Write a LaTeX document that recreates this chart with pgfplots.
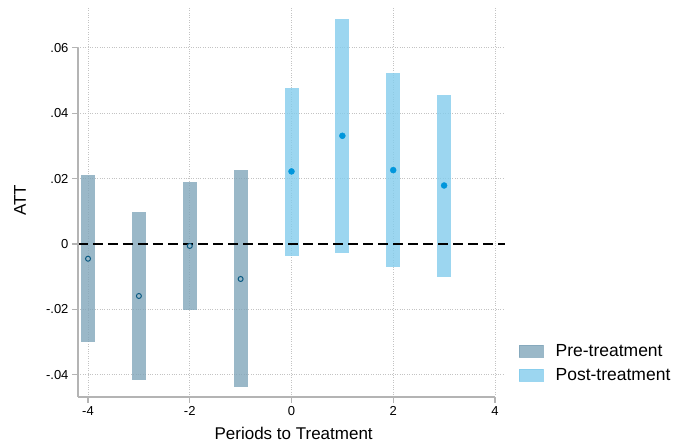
\documentclass[border=0pt]{standalone}
\usepackage{pgfplots}
\pgfplotsset{compat=1.18}
\usepackage{pgfplotstable}
\usepackage{fontspec}
\setmainfont{Liberation Sans}
\definecolor{precol}{RGB}{129,166,186}
\definecolor{postcol}{RGB}{131,204,236}
\definecolor{prebar}{RGB}{154,184,200}
\definecolor{premark}{RGB}{10,90,130}
\definecolor{postmark}{RGB}{0,150,220}
\definecolor{axgray}{RGB}{180,180,180}
\definecolor{gridgray}{RGB}{195,195,195}

\pgfplotstableread{
x y lo hi
-4 -0.0045 -0.0299 0.0211
-3 -0.0159 -0.0415 0.0099
-2 -0.0006 -0.0201 0.0189
-1 -0.0107 -0.0437 0.0225
}\pre
\pgfplotstableread{
x y lo hi
0 0.0222 -0.0036 0.0478
1 0.0331 -0.0027 0.0689
2 0.0226 -0.0071 0.0523
3 0.0179 -0.0100 0.0456
}\post

\begin{document}
\begin{tikzpicture}
\begin{axis}[
  name=ax,
  at={(0,0)}, anchor=south west,
  scale only axis,
  width=427pt, height=389pt,
  xmin=-4.197, xmax=4.197,
  ymin=-0.0468, ymax=0.0722,
  scaled y ticks=false, scaled x ticks=false,
  axis x line*=bottom, axis y line*=left,
  axis line style={draw=none},
  xtick={-4,-2,0,2,4},
  xticklabels={-4,-2,0,2,4},
  ytick={-0.04,-0.02,0,0.02,0.04,0.06},
  yticklabels={-.04,-.02,0,.02,.04,.06},
  extra y ticks={-0.04,-0.02,0.02,0.04,0.06},
  extra y tick labels={},
  extra y tick style={ymajorgrids=true, major tick length=0pt, tick style={draw=none}},
  tick align=outside,
  major tick length=6pt,
  tick style={axgray, line width=1.2pt},
  xmajorgrids=true,
  grid style={gridgray, dotted, line width=0.8pt},
  ticklabel style={font=\fontsize{13}{15}\selectfont},
  /pgf/number format/assume math mode=true,
  xlabel={Periods to Treatment},
  ylabel={ATT},
  label style={font=\fontsize{17}{20}\selectfont},
  xlabel style={at={(axis description cs:0.505,-0.108)}, anchor=base},
  ylabel style={at={(axis description cs:-0.1218,0.5057)}, anchor=base},
  clip=false,
  legend style={at={(axis description cs:1.0328,0.1414)}, anchor=north west,
    draw=none, fill=none, inner sep=0pt, row sep=6.5pt,
    font=\fontsize{17.5}{20}\selectfont},
  legend cell align=left,
]
\addplot[only marks, mark=none, forget plot,
  error bars/.cd, y dir=both, y explicit, error mark=none,
  error bar style={line width=14pt, color=precol, opacity=0.8}]
  table[x=x, y=y, y error plus expr=\thisrow{hi}-\thisrow{y}, y error minus expr=\thisrow{y}-\thisrow{lo}] {\pre};
\addplot[only marks, mark=none, forget plot,
  error bars/.cd, y dir=both, y explicit, error mark=none,
  error bar style={line width=14pt, color=postcol, opacity=0.8}]
  table[x=x, y=y, y error plus expr=\thisrow{hi}-\thisrow{y}, y error minus expr=\thisrow{y}-\thisrow{lo}] {\post};
\draw[black, dash pattern=on 10pt off 5pt, line width=1.2pt]
  (axis cs:-4.197,0) -- (axis cs:4.197,0);
\addplot[only marks, mark=*, mark size=2.5pt, forget plot,
  mark options={draw=premark, fill=prebar, line width=1pt}]
  table[x=x, y=y] {\pre};
\addplot[only marks, mark=*, mark size=3pt, forget plot,
  mark options={draw=postmark, fill=postmark}]
  table[x=x, y=y] {\post};
\draw[axgray, line width=1.5pt] (axis cs:-4.197,-0.0468) -- (axis cs:4,-0.0468);
\draw[axgray, line width=1.5pt] (axis cs:-4.197,-0.0468) -- (axis cs:-4.197,0.06);
\addlegendimage{legend image code/.code={\fill[precol, opacity=0.8] (0pt,-6pt) rectangle (24pt,6pt); \path (34pt,0pt);}}
\addlegendentry{Pre-treatment}
\addlegendimage{legend image code/.code={\fill[postcol, opacity=0.8] (0pt,-6pt) rectangle (24pt,6pt); \path (34pt,0pt);}}
\addlegendentry{Post-treatment}
\end{axis}
\pgfresetboundingbox
\path[use as bounding box] (-78pt,-46pt) rectangle (597pt,397pt);
\end{tikzpicture}
\end{document}
